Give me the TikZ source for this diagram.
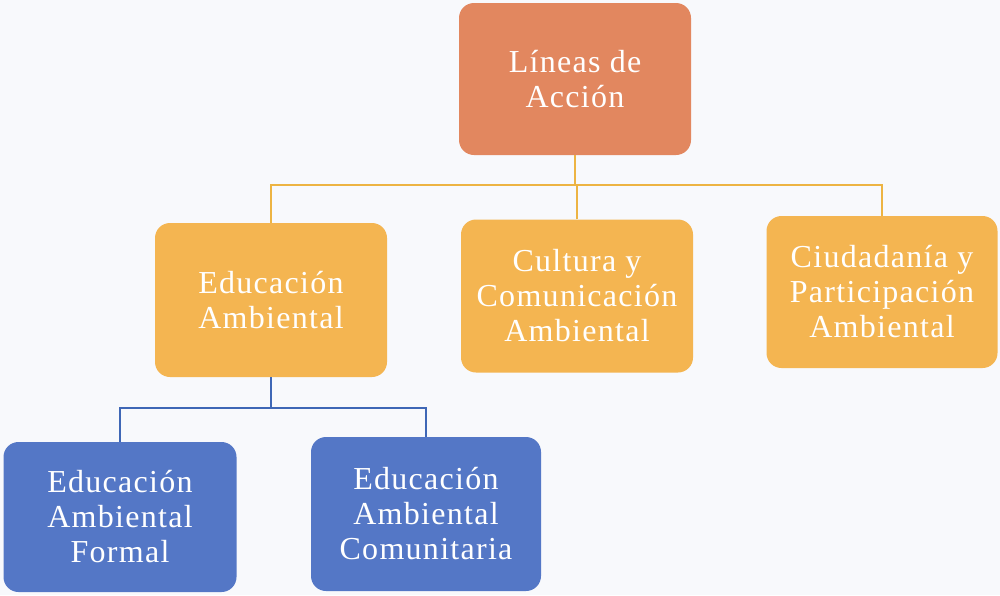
\documentclass[tikz,border=0pt]{standalone}
\usepackage{fontspec}
\setmainfont{Liberation Serif}
\newfontfamily\boxfont[LetterSpace=4]{Liberation Serif}
\definecolor{bg}{HTML}{F8F9FC}
\definecolor{topc}{HTML}{E2875F}
\definecolor{midc}{HTML}{F4B551}
\definecolor{lowc}{HTML}{5477C6}
\definecolor{lineo}{HTML}{EDB443}
\definecolor{lineb}{HTML}{3F67B6}
\begin{document}
\begin{tikzpicture}[x=1pt,y=-1pt,
  box/.style={rounded corners=15pt, minimum width=232pt, minimum height=152pt, align=center, text=white, inner sep=0pt,
    font=\boxfont\fontsize{32}{35}\selectfont},
  topbox/.style={box, fill=topc},
  midbox/.style={box, fill=midc},
  lowbox/.style={box, fill=lowc},
  olink/.style={draw=lineo, line width=2.5pt},
  blink/.style={draw=lineb, line width=2.5pt}]
\fill[bg] (0,0) rectangle (1000,595);
\useasboundingbox (0,0) rectangle (1000,595);
\node[topbox] (top) at (575,79) {Líneas de\\Acción};
\node[midbox, minimum height=154pt] (ea) at (271,300) {Educación\\Ambiental};
\node[midbox, minimum height=153pt] (cu) at (577,296) {Cultura y\\Comunicación\\Ambiental};
\node[midbox, minimum width=231pt] (ci) at (882,292) {Ciudadanía y\\Participación\\Ambiental};
\node[lowbox, minimum width=233pt, minimum height=150pt] (fo) at (120,517) {Educación\\Ambiental\\Formal};
\node[lowbox, minimum width=230pt, minimum height=154pt] (co) at (426,514) {Educación\\Ambiental\\Comunitaria};
\coordinate (oj) at (575,185);
\coordinate (bj) at (271,408);
\draw[olink] (top.south) -- (oj);
\draw[olink] (ea.north) |- (oj) -| (ci.north);
\draw[olink] (cu.north) |- (oj);
\draw[blink] (ea.south) -- (bj);
\draw[blink] (fo.north) |- (bj) -| (co.north);
\end{tikzpicture}
\end{document}
